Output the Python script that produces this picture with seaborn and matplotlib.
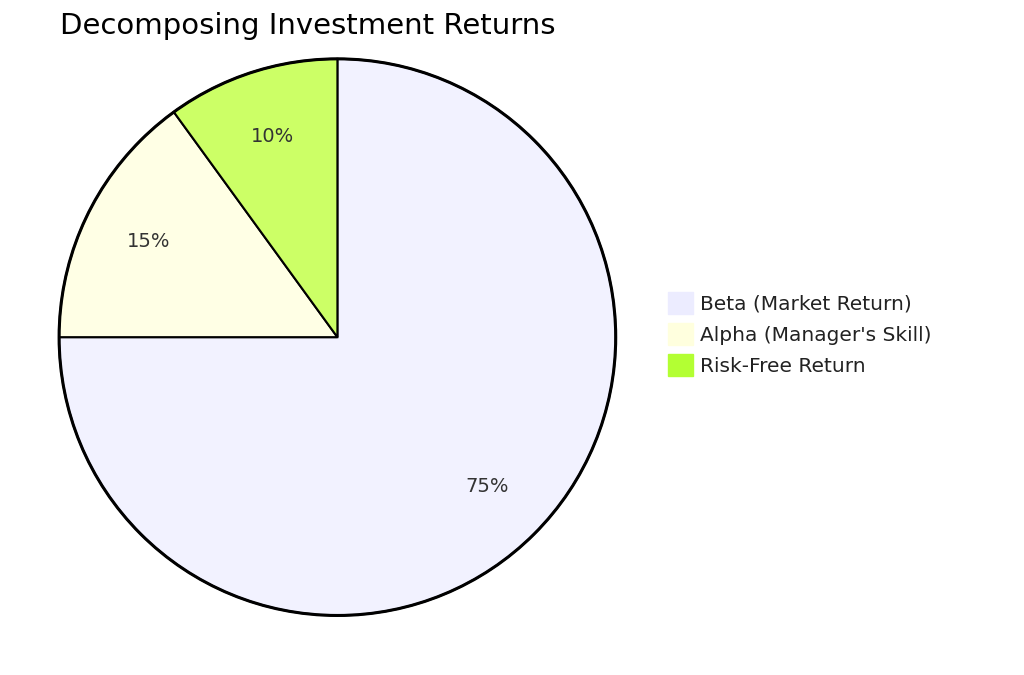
import matplotlib
matplotlib.use("Agg")
import matplotlib.pyplot as plt
import seaborn as sns
from matplotlib.patches import Patch

labels = ["Beta (Market Return)", "Alpha (Manager's Skill)", "Risk-Free Return"]
values = [75, 15, 10]
slice_colors = ["#f2f2ff", "#ffffe5", "#ccff66"]
legend_colors = ["#ececff", "#ffffde", "#b3ff33"]

sns.set_theme(style="white")
plt.rcParams['font.family'] = ['DejaVu Sans']

fig = plt.figure(figsize=(10.24, 6.75), dpi=100)
ax = fig.add_axes([0.055, 0.084, 0.549, 0.833])
wedges, texts, autotexts = ax.pie(values, colors=slice_colors, startangle=90, counterclock=False,
       autopct=lambda p: f"{p:.0f}%", pctdistance=0.76,
       wedgeprops=dict(edgecolor="black", linewidth=1.5),
       textprops=dict(fontsize=14, color="#333333"))
circle = plt.Circle((0, 0), 1, fill=False, edgecolor="black", linewidth=2.2)
ax.add_patch(circle)
ax.set_xlim(-1.01, 1.01); ax.set_ylim(-1.01, 1.01)
ax.set_aspect("equal")

fig.text(0.059, 0.962, "Decomposing Investment Returns", fontsize=21, color="black", va="center")

handles = [Patch(facecolor=c, edgecolor=c) for c in legend_colors]
fig.legend(handles, labels, loc="center left", bbox_to_anchor=(0.635, 0.505), frameon=False,
           fontsize=14.5, handlelength=1.2, handleheight=1.3, handletextpad=0.35, labelspacing=0.45,
           labelcolor="#222222")

fig.savefig("out.png", dpi=100)
